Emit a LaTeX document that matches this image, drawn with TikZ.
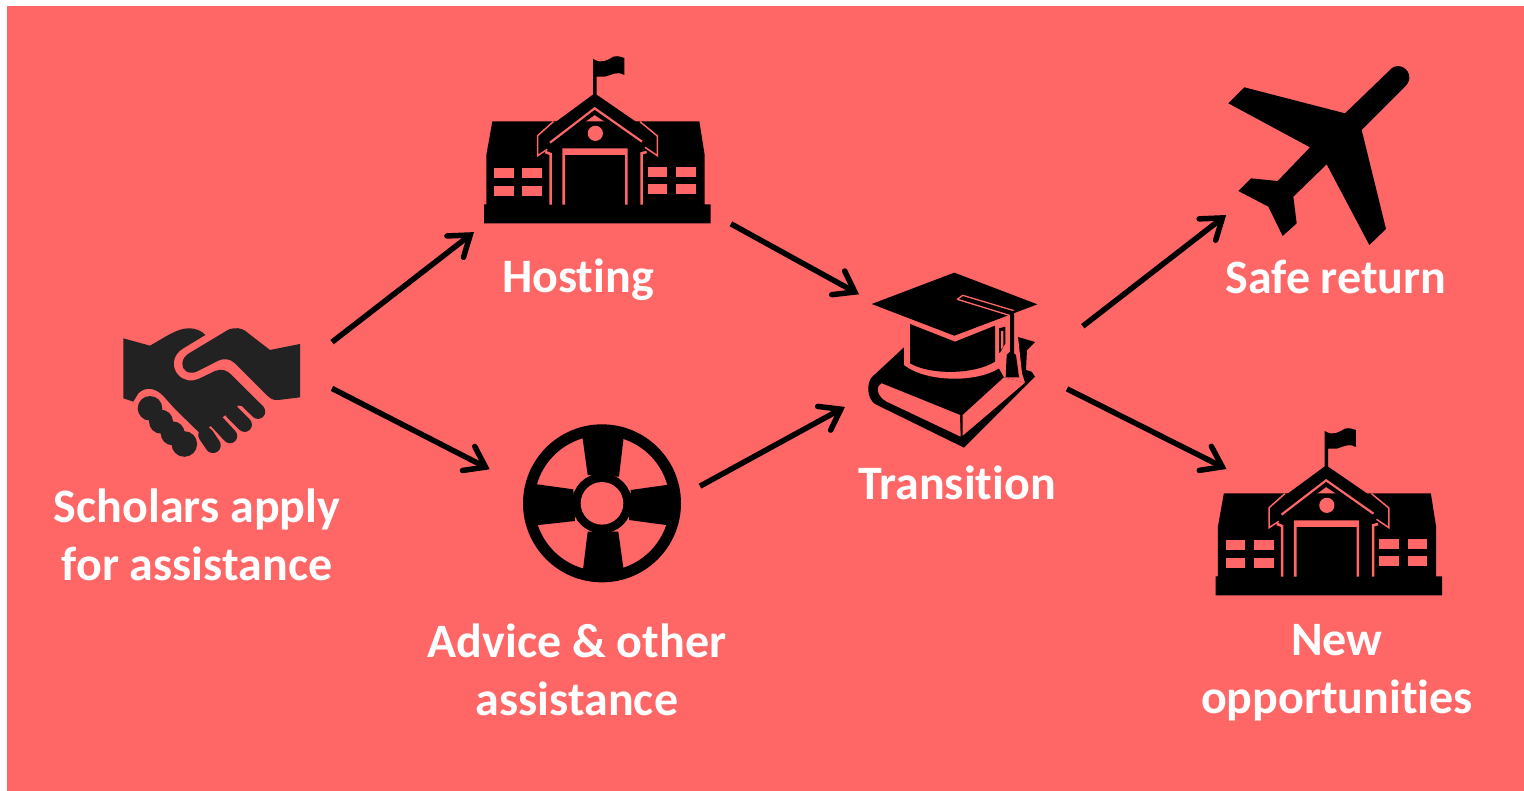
\documentclass[tikz,border=0pt]{standalone}
\usepackage{fontspec}
\setmainfont[Ligatures=NoCommon]{Carlito}
\usetikzlibrary{arrows.meta}
\definecolor{salmon}{HTML}{FF6666}
\definecolor{handgrey}{HTML}{222222}
\tikzset{
    icon/.style={x=0.33333pt,y=-0.33333pt},
    spot/.style 2 args={inner sep=0pt,outer sep=0pt,minimum width=#1pt,minimum height=#2pt},
    caption/.style={text=white,font=\fontsize{48}{58}\selectfont\bfseries,align=center},
    flow/.style={line width=5.5pt,-{Straight Barb[length=19pt,width=27pt,line cap=round]}}
}
\newcommand{\schoolicon}{
    \begin{scope}[shift={(470,40)},icon]
        \fill (67,244) -- (688,244) -- (704,345) -- (704,493) -- (722,493) -- (722,550) -- (42,550) -- (42,493) -- (49,493) -- (49,345) -- cycle;
        \fill (374,160) -- (563,290) -- (563,350) -- (374,225) -- (200,350) -- (200,288) -- cycle;
        \fill (369,57) .. controls (395,72) and (410,62) .. (430,50) .. controls (445,46) and (455,52) .. (463,54) -- (463,105) .. controls (440,92) and (425,105) .. (405,110) -- (380,110) -- (380,165) -- (369,165) -- cycle;
        \draw[salmon,line width=1.5pt] (250,245) -- (203,287) -- (203,347) -- (232,328);
        \draw[salmon,line width=1.5pt] (510,245) -- (562,288) -- (562,347) -- (525,322);
        \draw[salmon,line width=2.2pt] (240,308) -- (374,205) -- (516,305);
        \fill[salmon] (376,280) circle [radius=7.6pt];
        \fill[salmon] (277,494) -- (277,325) -- (473,325) -- (473,494) -- (465,494) -- (465,345) -- (285,345) -- (285,494) -- cycle;
        \draw[salmon,line width=2.6pt] (242,494) -- (242,342) -- (226,336);
        \draw[salmon,line width=2.6pt] (515,494) -- (515,340) -- (530,336);
        \foreach \wx/\wy in {72/383,157/383,72/438,157/438,533/380,618/380,533/432,618/432}
            \fill[salmon] (\wx,\wy) rectangle ++(59,30);
    \end{scope}
}
\begin{document}
\begin{tikzpicture}[x=1pt,y=-1pt]
    \useasboundingbox (0,0) rectangle (1524,791);
    \fill[salmon] (7,6) rectangle (1524,791);

    % handshake
    \begin{scope}[shift={(100,310)},icon]
        \fill[handgrey] (150,295) circle [radius=12.3pt] (183,335) circle [radius=12pt]
            (218,370) circle [radius=12pt] (253,402) circle [radius=12.8pt];
        \fill[handgrey] (70,85) -- (150,107) .. controls (190,85) and (230,55) .. (265,55) .. controls (290,55) and (305,63) .. (316,75)
            -- (250,115) .. controls (215,135) and (215,175) .. (235,195) .. controls (250,212) and (275,216) .. (295,207)
            -- (345,183) .. controls (365,175) and (380,180) .. (395,195) -- (492,292) -- (415,287) -- (370,320) -- (327,352) -- (308,378)
            -- (225,297) -- (190,258) .. controls (165,232) and (135,230) .. (115,250) -- (100,275) -- (70,265) -- cycle;
        \draw[handgrey,line width=14.5pt,line cap=round] (430,262) -- (474,305) (395,305) -- (434,344) (350,335) -- (390,378);
        \draw[handgrey,line width=15.5pt,line cap=round] (318,375) -- (339,406);
        \fill[handgrey] (400,55) .. controls (420,52) and (435,60) .. (445,70) -- (510,120) -- (600,102) -- (600,262) -- (535,270)
            .. controls (520,272) and (510,265) .. (500,255) -- (405,160) .. controls (390,145) and (370,145) .. (355,152) -- (290,185)
            .. controls (265,195) and (245,180) .. (247,160) .. controls (248,145) and (258,135) .. (270,128) -- (375,65) .. controls (385,58) and (392,56) .. (400,55) -- cycle;
    \end{scope}

    \schoolicon
    \begin{scope}[shift={(731.5,372)}]
        \schoolicon
    \end{scope}

    % lifebuoy
    \begin{scope}[shift={(510,415)},icon]
        \fill (276,265) circle [radius=79pt];
        \fill[salmon] (276,265) circle [radius=67.7pt];
        \fill (276,265) circle [radius=30pt];
        \fill (215,50) -- (343,50) -- (327,185) -- (233,180) -- cycle;
        \fill (233,350) -- (325,350) -- (343,480) -- (217,480) -- cycle;
        \fill (60,205) -- (190,223) -- (195,318) -- (60,333) -- cycle;
        \fill (490,207) -- (362,225) -- (357,315) -- (490,333) -- cycle;
        \fill[salmon] (276,265) circle [radius=21.3pt];
    \end{scope}

    % book and cap
    \begin{scope}[shift={(850,260)},icon]
        \fill (162,262) -- (65,352) .. controls (50,370) and (50,415) .. (75,432) -- (342,563) -- (555,350) -- (545,335) -- (528,330) -- (531,270) -- (555,246) -- (504,231) -- (300,200) -- cycle;
        \fill[salmon] (162,180) -- (162,315) .. controls (230,368) and (380,368) .. (447,325) -- (462,352) -- (525,368) -- (516,340) -- (504,231) -- (497,150) -- (300,150) -- cycle;
        \fill[salmon] (95,370) .. controls (80,375) and (75,405) .. (110,425) -- (332,530) -- (330,465) -- cycle;
        \fill[salmon] (338,465) -- (462,352) -- (525,368) -- (338,527) -- cycle;
        \fill (180,192) -- (315,245) -- (435,197) -- (435,305) .. controls (370,345) and (240,345) .. (180,310) -- cycle;
        \fill (447,205) -- (466,200) -- (466,250) -- (450,278) -- (447,278) -- cycle;
        \fill[salmon] (453,213) -- (460,213) -- (460,260) -- (453,268) -- cycle;
        \fill (65,132) -- (313,38) -- (562,133) -- (313,227) -- cycle;
        \draw[salmon,line width=1.3pt,line join=round] (478,166) -- (322,118) -- (338,106) -- (492,152);
        \fill (480,155) -- (492,152) -- (492,280) -- (498,285) -- (507,352) -- (467,352) -- (470,285) -- (480,275) -- cycle;
    \end{scope}

    % plane
    \begin{scope}[shift={(1210,50)},icon]
        \fill (405,190) -- (545,55) .. controls (565,38) and (600,55) .. (598,85) .. controls (597,97) and (590,105) .. (580,115) -- (455,240) -- (528,537) -- (478,585) -- (350,343) -- (250,440) -- (260,520) -- (218,558) -- (175,470) -- (85,423) -- (123,385) -- (203,393) -- (300,292) -- (55,160) -- (103,112) -- cycle;
    \end{scope}

    \node[spot={72}{80}] (hands) at (296,370) {};
    \node[spot={289}{175}] (hosting) at (586.4,144.6) {};
    \node[spot={172}{160}] (advice) at (614,533) {};
    \node[spot={221}{140}] (transition) at (955.5,347) {};
    \node[spot={79}{80}] (transitionout) at (1027.5,369) {};
    \node[spot={200}{146}] (plane) at (1320,142) {};
    \node[spot={210}{102}] (opportunities) at (1328,520) {};

    \draw[flow] (hands) -- (hosting);
    \draw[flow,shorten >=43pt] (hands) -- (advice);
    \draw[flow,shorten >=-16pt] (hosting) -- (transition);
    \draw[flow] (advice) -- (transition);
    \draw[flow,shorten <=20pt] (transitionout) -- (plane);
    \draw[flow] (transitionout) -- (opportunities);

    \node[caption] (handslabel) at (197,535) {Scholars apply\\for assistance};
    \node[caption] (hostinglabel) at (578,280) {Hosting};
    \node[caption] (advicelabel) at (577,670) {Advice \& other\\assistance};
    \node[caption] (transitionlabel) at (957,483) {Transition};
    \node[caption] (planelabel) at (1336,277) {Safe return};
    \node[caption] (opportunitieslabel) at (1337,673) {New\\opportunities};
\end{tikzpicture}
\end{document}
